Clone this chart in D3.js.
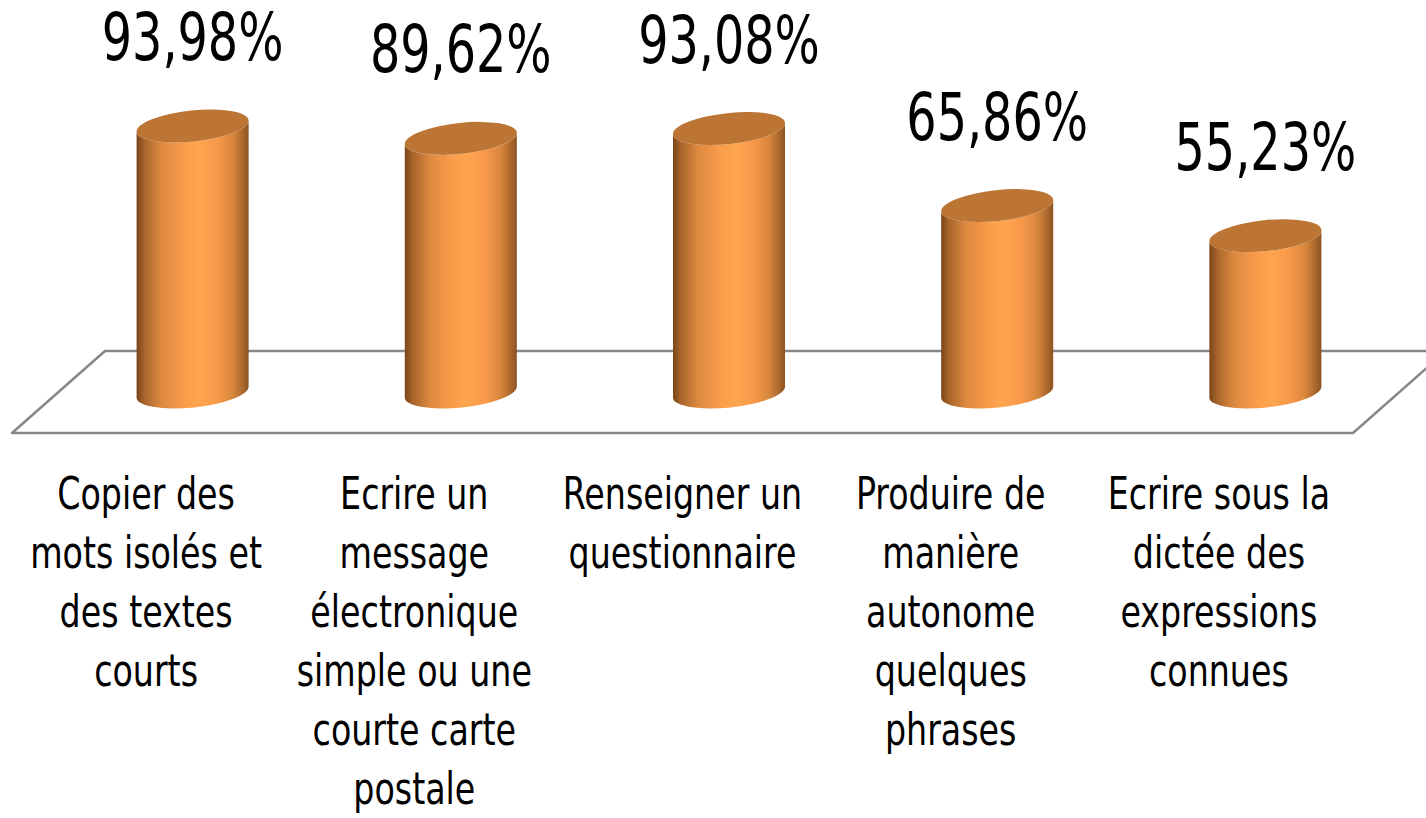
<!DOCTYPE html>
<html lang="fr">
<head>
    <meta charset="UTF-8" />
    <title>Cylindres</title>
    <script src="https://d3js.org/d3.v7.min.js"></script>
    <style>
        html, body { margin: 0; padding: 0; background: #fff; }
        svg { display: block; }
        text { font-family: "DejaVu Sans Condensed", "Liberation Sans Narrow", sans-serif; fill: #000; }
    </style>
</head>
<body>
<div id="chart"></div>
<script>
    // --- Data ---
    const categories = [
        "Copier des mots isolés et des textes courts",
        "Ecrire un message électronique simple ou une courte carte postale",
        "Renseigner un questionnaire",
        "Produire de manière autonome quelques phrases",
        "Ecrire sous la dictée des expressions connues"
    ];
    const values = [93.98, 89.62, 93.08, 65.86, 55.23];
    const labelLines = [
        ["Copier des", "mots isolés et", "des textes", "courts"],
        ["Ecrire un", "message", "électronique", "simple ou une", "courte carte", "postale"],
        ["Renseigner un", "questionnaire"],
        ["Produire de", "manière", "autonome", "quelques", "phrases"],
        ["Ecrire sous la", "dictée des", "expressions", "connues"]
    ];

    const width = 1426, height = 818;
    const depthX = 46.5, depthY = 41;   // half depth of the floor (oblique view)

    const svg = d3.select("#chart").append("svg")
        .attr("width", width)
        .attr("height", height);

    const x = d3.scaleBand()
        .domain(categories)
        .range([58.5, 1399.5])
        .paddingInner(0.58)
        .paddingOuter(0.29);

    const y = d3.scaleLinear().domain([0, 100]).range([392, 109]);

    // gradient for cylinder side
    const defs = svg.append("defs");
    const grad = defs.append("linearGradient").attr("id", "side")
        .attr("x1", 0).attr("x2", 1).attr("y1", 0).attr("y2", 0);
    [[0, "#7a4519"], [0.07, "#a8642c"], [0.22, "#dd8940"], [0.42, "#f99c4a"],
     [0.55, "#fea64f"], [0.72, "#f8984a"], [0.86, "#d6863c"], [0.95, "#a9662c"], [1, "#8c5322"]]
        .forEach(s => grad.append("stop").attr("offset", s[0]).attr("stop-color", s[1]));

    // floor
    const y0 = y(0);
    const [r0, r1] = x.range();
    svg.append("path")
        .attr("d", `M${r0 + depthX},${y0 - depthY} L${r1 + depthX},${y0 - depthY} L${r1 - depthX},${y0 + depthY} L${r0 - depthX},${y0 + depthY} Z`)
        .attr("fill", "#fff")
        .attr("stroke", "#878787")
        .attr("stroke-width", 2.5)
        .attr("stroke-linejoin", "round");

    // cylinders
    const rx = x.bandwidth() / 2, ry = 15.5, rot = -6;
    const ex = rx * Math.cos(rot * Math.PI / 180);
    const ey = rx * Math.sin(rot * Math.PI / 180);

    const bars = svg.append("g").selectAll("g")
        .data(values)
        .join("g");

    bars.append("path")
        .attr("fill", "url(#side)")
        .attr("d", (d, i) => {
            const cx = x(categories[i]) + rx;
            const yt = y(d);
            return `M${cx - ex},${yt - ey} L${cx - ex},${y0 - ey}` +
                ` A${rx},${ry} ${rot} 0 0 ${cx + ex},${y0 + ey}` +
                ` L${cx + ex},${yt + ey}` +
                ` A${rx},${ry} ${rot} 0 1 ${cx - ex},${yt - ey} Z`;
        });

    bars.append("ellipse")
        .attr("cx", 0).attr("cy", 0)
        .attr("rx", rx).attr("ry", ry)
        .attr("transform", (d, i) => `translate(${x(categories[i]) + rx},${y(d)}) rotate(${rot})`)
        .attr("fill", "#bc7534");

    // value labels
    svg.append("g").selectAll("text")
        .data(values)
        .join("text")
        .attr("text-anchor", "middle")
        .attr("font-size", 53)
        .attr("transform", (d, i) => `translate(${x(categories[i]) + rx},${y(d) - 66}) scale(1,1.24)`)
        .text(d => d.toFixed(2).replace(".", ",") + "%");

    // category labels
    const sy = 1.22;
    const cat = svg.append("g").selectAll("text")
        .data(labelLines)
        .join("text")
        .attr("text-anchor", "middle")
        .attr("font-size", 37)
        .attr("transform", (d, i) => `translate(${x(categories[i]) + rx - depthX},509) scale(1,${sy})`);

    cat.selectAll("tspan")
        .data(d => d)
        .join("tspan")
        .attr("x", 0)
        .attr("y", (d, j) => j * 59 / sy)
        .text(d => d);
</script>
</body>
</html>
